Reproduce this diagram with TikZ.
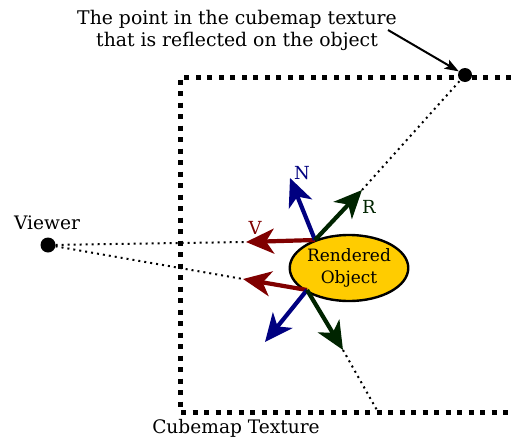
\documentclass[tikz,border=0pt]{standalone}
\usepackage{fontspec}
\setmainfont{DejaVu Serif}
\usetikzlibrary{arrows.meta,shapes.geometric}
\definecolor{nblue}{RGB}{0,0,128}
\definecolor{vred}{RGB}{128,0,0}
\definecolor{rgreen}{RGB}{0,36,0}
\definecolor{objfill}{RGB}{255,204,0}
\tikzset{
  vec/.style={line width=4.2pt,-{Stealth[length=28pt,width=25pt,inset=8pt]}},
  dotline/.style={line width=2pt,dash pattern=on 2pt off 4pt},
  cube/.style={line width=5pt,dash pattern=on 5pt off 6.5pt},
  dotpt/.style={circle,fill=black,inner sep=0pt,minimum size=14pt},
  lbl/.style={font=\fontsize{18}{20}\selectfont,inner sep=0pt},
}
\begin{document}
\begin{tikzpicture}[x=1pt,y=-1pt]
\useasboundingbox (0,0) rectangle (511,442);
% cube
\draw[cube] (511,77) -- (180,77) -- (180,412) -- (511,412);
% points
\node[dotpt] (pt) at (465,75) {};
\node[dotpt,minimum size=15pt] (viewer) at (48,245) {};
\node[lbl,font=\fontsize{18.6}{20}\selectfont] (vlbl) at (47,223) {Viewer};
\node[lbl,font=\fontsize{18.8}{22}\selectfont,align=center] (toptext) at (237,30) {The point in the cubemap texture\\that is reflected on the object};
\node[lbl,font=\fontsize{18.6}{20}\selectfont] (cubelbl) at (236,428) {Cubemap Texture};
% object
\node[ellipse,draw,line width=2.4pt,fill=objfill,minimum width=112pt,minimum height=66pt,inner sep=0pt,align=center,font=\fontsize{17}{22}\selectfont] (obj) at (349,268) {Rendered\\Object};
% incidence points
\coordinate (p1) at (315,240);
\coordinate (p2) at (307,290);
\coordinate (n1) at (290,178);
\coordinate (r1) at (362,190);
\coordinate (v1) at (246,242);
\coordinate (n2) at (265,342);
\coordinate (r2) at (343,350);
\coordinate (v2) at (243,279);
\coordinate (bot) at (378,412);
% dotted
\draw[dotline] (viewer) -- (v1);
\draw[dotline] (viewer) -- (v2);
\draw[dotline] (r1) -- (pt);
\draw[dotline] (r2) -- (bot);
% vectors
\draw[vec,vred] (p1) -- (v1);
\draw[vec,nblue] (p1) -- (n1);
\draw[vec,rgreen] (p1) -- (r1);
\draw[vec,vred] (p2) -- (v2);
\draw[vec,nblue] (p2) -- (n2);
\draw[vec,rgreen] (p2) -- (r2);
\node[lbl,nblue] (nl) at (302,173) {N};
\node[lbl,rgreen] (rl) at (369,207) {R};
\node[lbl,vred] (vl) at (255,228) {V};
% annotation arrow
\draw[line width=2pt,-{Stealth[length=14pt,width=10pt,inset=3pt]}] (388,30) -- (pt);
\end{tikzpicture}
\end{document}
